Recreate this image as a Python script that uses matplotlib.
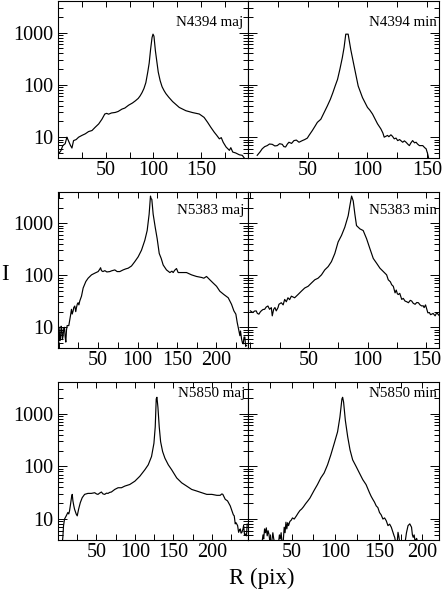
import matplotlib
matplotlib.use("Agg")
import matplotlib.pyplot as plt
from matplotlib.ticker import MultipleLocator, LogLocator, FuncFormatter, NullFormatter

plt.rcParams['font.family'] = ['Liberation Serif', 'DejaVu Serif']

# ---------------- data ----------------
r_4394_maj = [0.5, 3, 5, 7.5, 9.3, 11, 13, 14.6, 16.3, 19, 21.6, 25, 28.6, 32, 35.6, 39, 42.6, 46, 49,
              51, 53, 56, 60, 63, 67, 70, 74, 78, 81, 84, 86, 88, 90, 92, 94, 95.5, 97, 98.5, 99.5,
              100.5, 102, 103.5, 105, 107, 109, 111, 113, 116, 120, 127, 134, 141, 148, 153, 156.7,
              160, 163.7, 166, 169, 171, 173, 176, 179.5, 181, 183, 186, 190, 193, 196]
i_4394_maj = [4.8, 5.5, 6.9, 7.5, 10, 8.5, 7.0, 6.2, 8.6, 9.0, 10.0, 10.8, 11.6, 12.8, 13.4, 15.5, 17.9,
              22, 27.7, 28.5, 27.5, 29, 29.7, 31, 34.4, 36, 40.9, 45, 49.4, 55, 61.5, 71, 85, 110, 175,
              260, 480, 800, 930, 850, 450, 280, 175, 120, 92, 78, 68, 58, 48, 37, 32, 29.5, 27.7, 23.9,
              19.2, 15.5, 12.4, 11, 9.3, 9.8, 8.0, 6.5, 5.6, 6.3, 5.2, 5.0, 4.6, 4.5, 3.8]

r_4394_min = [7.7, 10, 11.9, 14, 16.1, 18, 20.3, 22.5, 24.5, 26.5, 28.7, 30, 31.5, 33, 34.3, 36.5, 38.5,
              40.5, 42.7, 45.5, 47.5, 49.7, 51.1, 53.9, 56, 58.1, 61, 64.5, 66.5, 69, 71, 73, 75, 77,
              79, 80.5, 81.9, 83.9, 86.1, 88.9, 92.3, 95.9, 100.1, 102, 104.3, 108.5, 111.3, 113, 114.1,
              116.9, 118, 119.7, 121, 122.5, 124, 125.4, 127, 129.6, 131, 132.4, 134, 135.2, 136.5,
              137.9, 139.5, 140.8, 142, 143.6, 146.4, 148, 149.2, 150.5, 151.5]
i_4394_min = [4.5, 5.2, 6.0, 6.6, 6.9, 7.4, 7.3, 6.8, 6.9, 7.5, 7.3, 6.6, 6.5, 7.4, 8.0, 7.6, 8.6,
              8.8, 8.0, 8.6, 9.0, 9.6, 10.8, 13.4, 16, 19.2, 22, 32, 39.7, 53, 70, 95, 127, 200,
              330, 520, 930, 930, 470, 227, 95, 57, 37, 33, 27.7, 18, 14.4, 12, 10,
              10.8, 10.2, 11.1, 10.4, 9.3, 9.6, 8.6, 9.0, 8.0, 8.5, 8.0, 7.3, 6.9, 7.8,
              8.6, 7.8, 8.0, 7.4, 6.9, 6.9, 6.3, 6.0, 4.8, 3.8]

r_5383_maj = [0.4, 1.2, 2.1, 3, 3.8, 4.6, 5.5, 6.3, 7.2, 8.1, 8.9, 9.8, 10.6, 12.7, 14.8, 16.1, 17,
              18.2, 19, 20.3, 21.5, 22.4, 23.5, 24.5, 25.5, 26.6, 27.5, 28.8, 30.9, 34.3, 37.2, 41.5,
              45.7, 49.9, 52, 53, 54.1, 56, 58.4, 61, 64.7, 67, 71.1, 74, 77.4, 81.6, 85, 88, 92.2,
              96.4, 100.7, 104.9, 109.1, 112.1, 114.6, 116.3, 117, 118, 119.7, 122.3, 124.8, 127.4,
              129.9, 132.4, 136.6, 140.9, 143.5, 145.1, 147, 149.3, 151.4, 155.7, 162, 168.4, 174.7,
              181, 184, 187.4, 191.6, 195.8, 200.1, 204.3, 209.4, 214.9, 219.1, 222.1, 224.6, 226.3,
              228, 229.7, 230.5, 231.8, 233, 233.9, 235, 236, 237, 238.2]
i_5383_maj = [10, 5.5, 6.0, 10.5, 9.3, 5.8, 6.9, 9.5, 10, 6.5, 5.2, 9.0, 10.8, 10.8, 16.6, 22.2, 18,
              20.7, 24, 25.7, 20, 23.9, 28, 29.7, 27, 32, 35, 39.7, 57, 76, 88, 102,
              110, 118, 131, 140, 123, 118, 123, 116, 118, 122, 127, 118, 118, 127, 133, 137, 151,
              183, 227, 304, 470, 726, 1500, 3340, 3000, 2890, 1500, 840, 505, 263,
              211, 158, 127, 113, 120, 113, 125, 135, 113, 113, 113, 102, 95,
              91, 88, 95, 82, 71, 61.5, 49.4, 42.7, 37, 27.7, 20.7, 17.9, 12.4,
              9.3, 6.9, 8.5, 6.0, 5.0, 4.8, 6.5, 6.5, 4.3, 4.5]

r_5383_min = [0, 2.2, 3.5, 5, 6, 7.3, 8.3, 9.3, 10.8, 12.2, 13.5, 15, 16.4, 17.9, 18.7, 19.9, 21, 22.1,
              23.6, 24.4, 26.4, 28, 29.3, 30.7, 32.1, 33.5, 35, 37.8, 40.7, 43.5, 46.4, 49.3, 52.1,
              55, 57.8, 60.7, 63.5, 66.4, 69.2, 72.1, 74.9, 77.8, 80.6, 83.5, 84.9, 86.4, 87.8, 89.2,
              90.6, 93.5, 96.3, 99.2, 102, 104.9, 107.8, 110.6, 113.5, 116.3, 117.7, 119.5, 120.6,
              122, 123.5, 124.5, 125.5, 126.3, 127.5, 129.2, 130.5, 132, 133.5, 134.9, 136.5, 137.7,
              139, 140.6, 142, 143.4, 144.8, 146.3, 147.5, 148.3, 149.5, 150.6, 151.5, 152.8, 153.8,
              154.8, 156, 157.7, 159.1, 160, 161]
i_5383_min = [20.7, 19.2, 20.5, 20.7, 18.5, 17.9, 19.5, 20.7, 22, 22.2, 24.5, 25.7, 22.2, 23.9, 16.6,
              22.2, 24, 20.7, 23.9, 27.7, 29.7, 27, 34.4, 31, 37, 34, 39.7, 37, 42.7, 49.4, 57, 61.5,
              71, 82, 88, 102, 127, 147, 183, 263, 437, 585, 840, 1400, 2160, 3340, 2690, 1500,
              904, 782, 726, 505, 327, 211, 170, 137, 118, 102, 82, 75, 66,
              61.5, 46, 52, 44, 42.7, 45, 34.4, 36, 32, 31, 29.7, 33, 32,
              29, 27.7, 30, 29.7, 27, 25.7, 26, 23.9, 27, 22.2, 19, 19.2, 17.5,
              17.9, 18.5, 16.6, 19.2, 18, 17]

r_5850_maj = [5.5, 6.3, 7.2, 8.5, 10.7, 12.8, 14, 15, 16.3, 17.6, 18.5, 19.4, 20.5, 21.5, 23.7, 25,
              26.8, 29, 31.5, 34.6, 38.9, 43.3, 47.7, 50, 52, 54, 56.4, 58.5, 60.7, 63, 65.1, 67,
              69.4, 73.8, 78.1, 82.5, 86.8, 93.3, 99.9, 106.4, 113, 117.3, 121.6, 124.7, 126.4,
              127.7, 128.6, 129.9, 131.6, 133.4, 136, 139, 143.4, 147.7, 154.3, 160.8, 167.3, 173.8,
              180.4, 186.9, 193.4, 200, 206.5, 210.8, 213, 214.3, 217.4, 220.4, 223.9, 226.9, 228,
              229.1, 230.4, 231.5, 233.5, 234.8, 236, 237, 238, 239.1, 240.5, 241.3, 242.5, 243.5,
              245, 246]
i_5850_maj = [3.5, 4.5, 7.5, 10, 11.5, 13.3, 12.5, 14.3, 19.1, 26, 29.4, 22.1, 18, 15.4, 12.4, 11.5,
              15.4, 20.5, 25.5, 29.4, 30.7, 30.7, 31.6, 30, 29.4, 31, 32.6, 30, 29.4, 31, 30.7, 32,
              32.6, 36.5, 39.3, 39.3, 42.2, 45.3, 52.3, 65, 86.6, 107, 154, 274, 562,
              1910, 2050, 1330, 562, 294, 191, 143, 107, 86.6, 60.4, 48.7, 42.2, 36.5,
              34, 31.6, 29.4, 29.4, 28.2, 28.2, 30, 29.4, 23.7, 22.1, 17.8, 13.3, 12,
              11.5, 8.1, 8.5, 7.5, 5.6, 6.2, 6.5, 5.4, 5.6, 6.5, 7.5, 5.0, 5.2,
              4.8, 8.0]

r_5850_min = [16, 17.2, 18, 19, 20, 21, 22, 23, 24, 25, 27, 28.5, 29.5, 30.7, 35, 36, 37, 38, 39, 40.5,
              41.5, 42.5, 43.5, 44.5, 45.5, 46.5, 48, 49.5, 51, 53, 55.5, 57.5, 59.5, 61.5, 63.5, 66,
              68.5, 71, 75.8, 79.6, 83.5, 87.3, 91.2, 95, 98.9, 102.7, 105.4, 107.7, 108.5, 109.6,
              111.6, 114.3, 117, 120, 123.9, 127.7, 131.6, 135.4, 139.3, 141.2, 143.1, 145, 147,
              148.9, 150.8, 152.7, 154.7, 156.6, 158.5, 160.5, 162.4, 164.3, 166.2, 167.5, 168.2,
              169.5, 171, 172, 173, 174, 180, 181.7, 183.5, 185.5, 187.5, 188.5, 189.4, 190.5, 191.5,
              193.3, 195]
i_5850_min = [3.5, 5.0, 4.2, 6.5, 5.5, 6.8, 4.8, 6.0, 5.2, 3.8, 3.5, 5.5, 4.2, 3.5, 3.5, 5.0, 4.2, 5.5,
              3.5, 4.0, 7.0, 5.5, 8.7, 6.5, 8.5, 7.5, 9.0, 9.5, 10.5, 10, 11.5, 13, 14.5, 15.5, 17,
              19.5, 22, 25, 35, 45, 60.4, 75, 107, 166, 274, 453, 866, 1910, 2050, 1660,
              750, 365, 205, 133, 100, 75, 56, 45, 31.6, 27, 23.7, 21, 17.8,
              16.5, 13.3, 12, 10, 10.5, 9.3, 7.5, 8.0, 7.0, 5.6, 4.8, 4.5,
              3.5, 3.5, 5.6, 4.6, 3.5, 3.5, 5.5, 7.5, 8.1, 7.0, 5.0, 4.5, 5.0, 3.8,
              4.3, 3.5]

labels = ["N4394 maj", "N4394 min", "N5383 maj", "N5383 min", "N5850 maj", "N5850 min"]
series_r = [r_4394_maj, r_4394_min, r_5383_maj, r_5383_min, r_5850_maj, r_5850_min]
series_i = [i_4394_maj, i_4394_min, i_5383_maj, i_5383_min, i_5850_maj, i_5850_min]

# ---------------- layout ----------------
W, H = 448, 596
fig = plt.figure(figsize=(W / 100, H / 100), dpi=100)

col_x = [(58, 248), (248, 439)]
row_y = [(1, 158), (192, 348), (382, 540)]
xlims = [(0, 199), (0, 160), (-1, 240), (-2, 161), (0, 247), (0, 219)]
label_pos = [(0.975, 0.866), (0.988, 0.866), (0.979, 0.880), (0.990, 0.880),
             (0.984, 0.928), (0.988, 0.928)]

xfmt = FuncFormatter(lambda v, _: '' if abs(v) < 1e-9 else f'{v:g}')
yfmt = FuncFormatter(lambda v, _: f'{int(round(v))}')

for k in range(6):
    row, col = divmod(k, 2)
    x0, x1 = col_x[col]
    yt, yb = row_y[row]
    ax = fig.add_axes([x0 / W, 1 - yb / H, (x1 - x0) / W, (yb - yt) / H])
    ax.plot(series_r[k], series_i[k], color='black', lw=0.85)
    ax.set_yscale('log')
    ax.set_ylim(4, 4000)
    ax.set_xlim(*xlims[k])
    ax.xaxis.set_major_locator(MultipleLocator(50))
    ax.xaxis.set_minor_locator(MultipleLocator(25))
    ax.xaxis.set_major_formatter(xfmt)
    ax.yaxis.set_major_locator(LogLocator(base=10, numticks=10))
    ax.yaxis.set_minor_locator(LogLocator(base=10, subs=range(2, 10), numticks=10))
    ax.yaxis.set_minor_formatter(NullFormatter())
    if col == 0:
        ax.yaxis.set_major_formatter(yfmt)
    else:
        ax.yaxis.set_major_formatter(NullFormatter())
    ax.tick_params(axis='both', which='both', direction='in', top=True, right=True,
                   width=0.7, labelsize=14.5, colors='black')
    ax.tick_params(axis='y', which='major', length=6.5, pad=3.5)
    ax.tick_params(axis='y', which='minor', length=3.3)
    ax.tick_params(axis='x', which='both', length=4.3, pad=2.5)
    for s in ax.spines.values():
        s.set_linewidth(0.8)
    ax.text(label_pos[k][0], label_pos[k][1], labels[k], transform=ax.transAxes,
            ha='right', va='center', fontsize=10.8)

fig.text(5 / W, 1 - 275 / H, "I", ha='center', va='center', fontsize=16.5)
fig.text(262 / W, 1 - 578 / H, "R (pix)", ha='center', va='center', fontsize=16.5)

fig.savefig("out.png", dpi=100)
